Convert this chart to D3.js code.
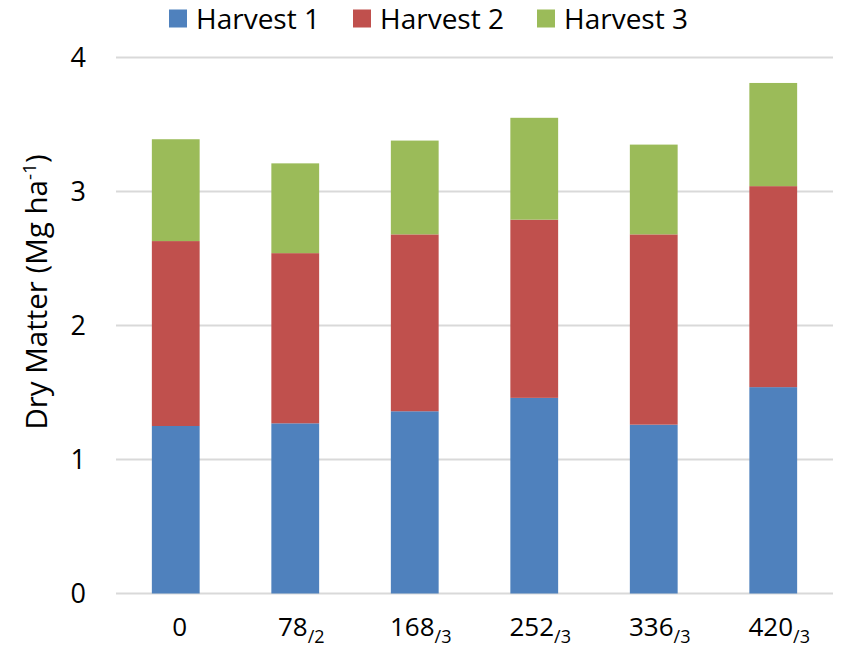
<!DOCTYPE html>
<html>
<head>
<meta charset="utf-8">
<script src="https://cdn.jsdelivr.net/npm/d3@7"></script>
<style>
  html, body { margin: 0; padding: 0; background: #fff; }
  svg { display: block; font-family: "Open Sans", "Liberation Sans", sans-serif; }
</style>
</head>
<body>
<svg id="chart" width="841" height="652"></svg>
<script>
// N rates (main number) with split count (subscript)
const rates = ["0", "78", "168", "252", "336", "420"];
const splits = ["", "/2", "/3", "/3", "/3", "/3"];

// Dry matter per harvest, Mg ha-1
const harvest1 = [1.25, 1.27, 1.36, 1.46, 1.26, 1.54];
const harvest2 = [1.38, 1.27, 1.32, 1.33, 1.42, 1.50];
const harvest3 = [0.76, 0.67, 0.70, 0.76, 0.67, 0.77];

const seriesNames = ["Harvest 1", "Harvest 2", "Harvest 3"];
const seriesColors = ["#4F81BD", "#C0504D", "#9BBB59"];
const yTicks = [0, 1, 2, 3, 4];

const svg = d3.select("#chart");
const plot = { left: 116, right: 833, top: 57.5, bottom: 593.5 };

const x = d3.scaleBand()
  .domain(rates)
  .range([plot.left, plot.right])
  .paddingInner(0.6)
  .paddingOuter(0.3);

const y = d3.scaleLinear()
  .domain([0, 4])
  .range([plot.bottom, plot.top]);

// gridlines
svg.append("g")
  .selectAll("line")
  .data(yTicks)
  .join("line")
  .attr("x1", plot.left)
  .attr("x2", plot.right)
  .attr("y1", d => y(d))
  .attr("y2", d => y(d))
  .attr("stroke", "#D9D9D9")
  .attr("stroke-width", 2);

// y tick labels
svg.append("g")
  .selectAll("text")
  .data(yTicks)
  .join("text")
  .attr("x", 86)
  .attr("y", d => y(d))
  .attr("dy", "0.36em")
  .attr("text-anchor", "end")
  .attr("font-size", 27)
  .attr("fill", "#000")
  .text(d => d);

// stacked bars
const rows = rates.map((r, i) => ({
  rate: r,
  "Harvest 1": harvest1[i],
  "Harvest 2": harvest2[i],
  "Harvest 3": harvest3[i]
}));
const stacked = d3.stack().keys(seriesNames)(rows);

svg.append("g")
  .selectAll("g")
  .data(stacked)
  .join("g")
  .attr("fill", (d, i) => seriesColors[i])
  .selectAll("rect")
  .data(d => d)
  .join("rect")
  .attr("x", d => x(d.data.rate))
  .attr("width", x.bandwidth())
  .attr("y", d => y(d[1]))
  .attr("height", d => y(d[0]) - y(d[1]));

// x labels with subscript split counts
const xl = svg.append("g")
  .selectAll("text")
  .data(rates)
  .join("text")
  .attr("x", (d, i) => x(d) + x.bandwidth() / 2 + (splits[i] ? 6 : 4))
  .attr("y", 636)
  .attr("text-anchor", "middle")
  .attr("font-size", 26)
  .attr("fill", "#000");
xl.append("tspan").text(d => d);
xl.append("tspan")
  .attr("font-size", 18)
  .attr("dy", 7)
  .text((d, i) => splits[i]);

// y axis title
const yt = svg.append("text")
  .attr("transform", "translate(47,292) rotate(-90)")
  .attr("text-anchor", "middle")
  .attr("font-size", 29.5)
  .attr("fill", "#000");
yt.append("tspan").text("Dry Matter (Mg ha");
yt.append("tspan").attr("font-size", 19).attr("dy", -11).text("-1");
yt.append("tspan").attr("dy", 11).text(")");

// legend
const legendX = [169, 353, 537];
const lg = svg.append("g")
  .selectAll("g")
  .data(seriesNames)
  .join("g")
  .attr("transform", (d, i) => `translate(${legendX[i]},0)`);
lg.append("rect")
  .attr("x", 0)
  .attr("y", 9.5)
  .attr("width", 18)
  .attr("height", 18)
  .attr("fill", (d, i) => seriesColors[i]);
lg.append("text")
  .attr("x", 27)
  .attr("y", 28.5)
  .attr("font-size", 28)
  .attr("fill", "#000")
  .text(d => d);
</script>
</body>
</html>
